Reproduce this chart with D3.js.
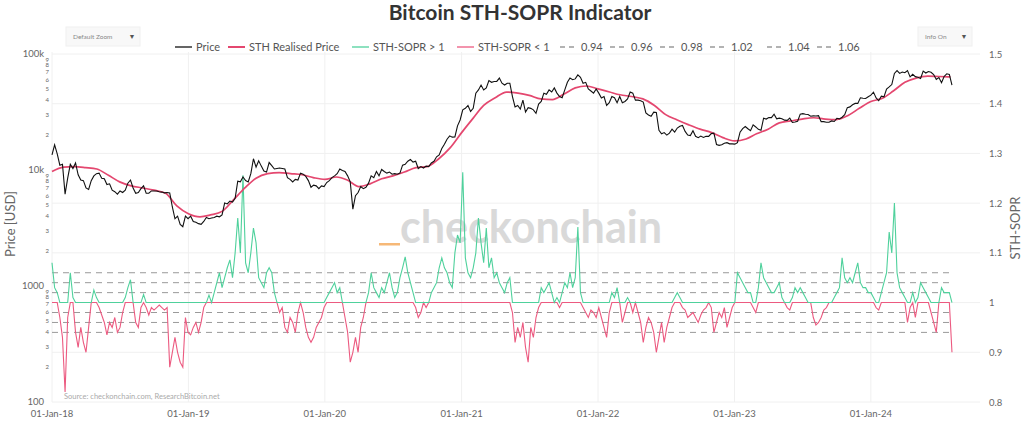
<!DOCTYPE html>
<html><head><meta charset="utf-8">
<script src="https://cdn.jsdelivr.net/npm/d3@7"></script>
<style>
body{margin:0;background:#fff;}
svg text{font-family:Lato,"Open Sans",sans-serif;}
</style>
</head><body>
<svg id="chart" width="1024" height="421"></svg>
<script>
// ---------------- DATA ----------------
const startWeek = "2018-01-01";          // weekly samples, every 7 days
const price = [
// 2018
13500,16500,13800,11000,11200,6200,8500,11200,10300,11500,
9100,8200,8100,7000,6800,8100,8900,9300,9400,8500,
8400,7500,7600,6700,6500,6200,6600,6400,6700,7700,
8200,7000,6300,6400,6900,7300,6300,6300,6600,6600,
6600,6500,6450,6350,6400,6350,4800,3800,4000,3400,
3250,4000,3800,
// 2019
4000,3600,3550,3450,3400,3600,3900,3800,3850,3900,
4000,3950,4100,5200,5100,5400,5300,5700,8000,7900,
8700,8100,7900,9300,12500,10600,12000,10800,9800,9600,
11600,10900,10200,10300,10400,10300,10200,8600,8300,7900,
8300,8200,9400,9200,8800,8100,7100,7400,7300,6900,
7300,7200,
// 2020
7800,8100,8600,8900,9300,10200,9900,9700,8900,7900,
4600,6000,6400,7200,6900,7100,7700,8900,8600,9700,
8900,10100,9700,9400,9600,9200,9300,9200,9400,11000,
11200,11900,12300,11700,11900,10300,10700,10400,10800,10700,
11500,11900,13000,13500,15300,16700,18400,19700,19200,19300,
24000,27000,
// 2021
33000,34000,36000,32000,34000,46000,49000,54000,49000,51000,
59000,57000,58000,58000,62000,56000,54000,56000,56000,43000,
35000,36000,33500,40000,31600,34500,34000,33000,30800,37000,
39000,46000,45000,49000,47000,51000,46000,43000,42000,49000,
57000,62000,60000,61000,66000,63000,56000,57000,50000,48000,
46000,50000,
// 2022
46000,41800,43000,36000,38000,43000,42000,38000,43000,38000,
39000,41000,47000,46000,40000,40000,39500,38500,31000,29800,
29000,31500,31300,22000,20500,21000,20000,20800,22500,21200,
23000,23800,24200,21500,20000,19800,21800,19500,19000,19600,
19100,19500,19500,20600,20800,16600,16300,16500,17000,17200,
16800,16800,
// 2023
16700,17200,21200,22700,23700,22700,21800,24500,23500,22400,
22000,28000,27500,28300,28300,30300,27600,28000,27700,26900,
26800,28000,25700,25900,26300,30300,30600,30200,30100,29100,
29300,29200,29400,26100,26100,25800,25800,26500,26200,27900,
27600,28500,30000,34500,35000,36500,37500,37500,41900,41500,
41300,42800,
// 2024
44200,46900,41800,39600,43300,42700,49900,52000,54500,68000,
72000,68000,70000,69000,72000,63500,66800,63800,63100,61500,
71300,68500,70600,69600,66500,60300,62600,56500,64000,67500,
66700,54000
];
const sopr = [
// 2018
1.08,1.03,1.02,0.97,0.93,0.82,0.97,1.06,1.01,0.94,
0.91,0.95,0.92,0.90,0.95,1.00,1.025,1.01,0.99,0.975,
0.96,0.935,0.96,0.95,0.97,0.94,0.95,0.98,1.01,1.03,
1.046,1.00,0.96,0.95,0.99,1.016,0.99,0.975,0.99,0.985,
0.99,0.995,0.99,0.985,0.99,0.87,0.90,0.93,0.90,0.88,
0.87,0.97,0.94,
// 2019
0.935,0.95,0.96,0.94,0.96,0.99,1.0,1.015,1.0,1.02,
1.04,1.06,1.03,1.05,1.07,1.086,1.05,1.10,1.17,1.10,
1.256,1.08,1.06,1.10,1.15,1.12,1.05,1.04,1.03,1.06,
1.07,1.06,1.02,1.0,0.98,0.99,0.95,0.94,0.97,0.96,
0.94,0.98,1.0,0.98,0.95,0.93,0.92,0.93,0.95,0.96,
0.97,0.99,
// 2020
1.01,1.02,1.03,1.04,1.02,1.03,1.0,0.97,0.94,0.88,
0.90,0.93,0.90,0.95,0.97,1.0,1.02,1.06,1.03,1.02,
1.01,1.03,1.02,1.04,1.06,1.03,1.01,1.02,1.05,1.07,
1.092,1.06,1.04,1.02,0.99,0.97,0.98,1.0,0.99,1.0,
1.02,1.03,1.04,1.07,1.09,1.07,1.06,1.04,1.03,1.10,
1.136,1.12,1.262,
// 2021
1.09,1.06,1.05,1.07,1.10,1.17,1.12,1.08,1.15,1.07,
1.09,1.05,1.06,1.04,1.03,1.02,1.04,1.05,0.98,0.92,
0.95,0.93,0.96,0.91,0.88,0.95,0.93,0.97,0.99,1.03,
1.02,1.03,1.04,1.02,1.0,1.01,0.99,1.02,1.04,1.03,
1.06,1.03,1.05,1.152,1.02,0.99,0.98,0.97,0.985,0.98,
0.97,0.99,
// 2022
0.97,0.95,0.93,0.98,1.02,1.01,1.03,1.0,0.96,0.98,
1.01,1.0,0.98,1.0,0.98,0.96,0.92,0.95,0.97,0.96,
0.94,0.90,0.93,0.96,0.92,0.95,0.97,0.99,1.01,1.02,
1.01,0.99,0.985,0.97,0.975,0.98,0.97,0.96,0.975,0.985,
0.99,1.0,0.99,0.94,0.96,0.98,0.97,0.99,0.95,0.97,
0.99,1.0,
// 2023
1.06,1.05,1.04,1.03,1.02,1.02,0.99,0.98,1.03,1.08,
1.05,1.04,1.03,1.02,1.02,1.03,1.04,1.01,1.0,0.99,
0.985,1.01,1.03,1.02,1.03,1.02,1.01,1.0,1.0,0.97,
0.955,0.96,0.97,0.985,0.99,1.0,1.0,1.01,1.02,1.03,
1.09,1.05,1.04,1.05,1.04,1.06,1.08,1.04,1.03,1.03,
1.02,1.02,
// 2024
1.01,0.99,0.985,1.02,1.04,1.06,1.142,1.10,1.20,1.06,
1.03,1.02,1.01,0.96,0.99,1.02,0.97,1.01,1.04,1.03,
1.02,1.01,0.98,0.96,0.94,1.0,1.03,1.02,1.02,1.02,
0.90
];
const startMonth = "2018-01-01";         // monthly samples
const sthRealised = [
9700,10600,10700,10500,10200,9000,7900,7300,7000,6700,6300,4900,
4200,3950,4100,4400,5500,7000,8500,9300,9500,9300,9100,8600,
8300,8700,8200,7200,7600,8400,8900,9600,10500,10700,12500,15500,
21000,28000,36000,42000,47000,46000,44000,41000,40500,45000,51000,53000,
50000,47000,44500,43000,41000,36000,30000,27000,24500,22500,21000,19000,
17800,18500,20500,22500,25500,26500,27500,28200,27500,27200,29500,34000,
39000,41500,48000,57000,62000,64500,64000,63500
];
const levels = [0.94, 0.96, 0.98, 1.02, 1.04, 1.06];
const priceMajorTicks = [100, 1000, 10000, 100000];
const priceMajorLabels = ["100", "1000", "10k", "100k"];
const soprTicks = [0.8, 0.9, 1, 1.1, 1.2, 1.3, 1.4, 1.5];
const xTicks = ["2018-01-01","2019-01-01","2020-01-01","2021-01-01","2022-01-01","2023-01-01","2024-01-01"];
const legendLabels = ["Price","STH Realised Price","STH-SOPR > 1","STH-SOPR < 1","0.94","0.96","0.98","1.02","1.04","1.06"];

// ---------------- CHART ----------------
const svg = d3.select("#chart");
const parse = d3.utcParse("%Y-%m-%d");
const t0w = parse(startWeek), t0m = parse(startMonth);
const weekly = price.map((p, i) => ({d: d3.utcDay.offset(t0w, 7*i), p, s: sopr[i]}));
const monthly = sthRealised.map((v, i) => ({d: d3.utcMonth.offset(t0m, i), v}));

const L = 52, R = 980, T = 54, B = 402;
const x = d3.scaleUtc().domain([parse("2018-01-01"), parse("2024-10-19")]).range([L, R]);
const yP = d3.scaleLog().domain([100, 100000]).range([B, T]);
const yS = d3.scaleLinear().domain([0.8, 1.5]).range([B, T]);

const C = {price:"#111", sth:"#e4476f", up:"#4fd19c", dn:"#ec5a80", dash:"#9a9a9a", grid:"#f0f0f0", text:"#666"};

// grid
svg.append("g").selectAll("line").data(soprTicks).join("line")
  .attr("x1", L).attr("x2", R).attr("y1", d => yS(d)).attr("y2", d => yS(d))
  .attr("stroke", C.grid).attr("stroke-width", 1);
svg.append("g").selectAll("line").data(xTicks).join("line")
  .attr("x1", d => x(parse(d))).attr("x2", d => x(parse(d))).attr("y1", T - 2).attr("y2", B)
  .attr("stroke", C.grid).attr("stroke-width", 1);

// watermark
svg.append("text").attr("x", 400).attr("y", 243).text("checkonchain")
  .attr("font-size", 46).attr("font-weight", 700).attr("fill", "#d9d9d9")
  .attr("textLength", 262).attr("lengthAdjust", "spacingAndGlyphs");
svg.append("rect").attr("x", 379).attr("y", 243).attr("width", 21).attr("height", 2.5).attr("fill", "#f6b877");

// dashed levels
const xs = x(weekly[0].d), xe = x(weekly[weekly.length-1].d);
svg.append("g").selectAll("line").data(levels).join("line")
  .attr("x1", xs).attr("x2", xe).attr("y1", d => yS(d)).attr("y2", d => yS(d))
  .attr("stroke", C.dash).attr("stroke-width", 1).attr("stroke-dasharray", "6,5");

// SOPR lines (red first, green on top)
const lineS = f => d3.line().x(d => x(d.d)).y(d => yS(f(d.s)));
svg.append("path").datum(weekly).attr("d", lineS(v => Math.min(v, 1)))
  .attr("fill", "none").attr("stroke", C.dn).attr("stroke-width", 1.1);
svg.append("path").datum(weekly).attr("d", lineS(v => Math.max(v, 1)))
  .attr("fill", "none").attr("stroke", C.up).attr("stroke-width", 1.1);

// price lines
svg.append("path").datum(monthly)
  .attr("d", d3.line().curve(d3.curveMonotoneX).x(d => x(d.d)).y(d => yP(d.v)))
  .attr("fill", "none").attr("stroke", C.sth).attr("stroke-width", 1.7);
svg.append("path").datum(weekly)
  .attr("d", d3.line().x(d => x(d.d)).y(d => yP(d.p)))
  .attr("fill", "none").attr("stroke", C.price).attr("stroke-width", 1.1);

// left axis (log)
const minor = [];
for (let dec = 100; dec < 100000; dec *= 10) for (let k = 2; k <= 9; k++) minor.push({v: dec*k, k});
const gl = svg.append("g").attr("fill", C.text).attr("text-anchor", "end");
gl.selectAll("text.maj").data(priceMajorTicks).join("text").attr("class","maj")
  .attr("x", 44).attr("y", d => yP(d) + 3).attr("font-size", 9.5).text((d, i) => priceMajorLabels[i]);
gl.selectAll("text.min").data(minor).join("text").attr("class","min")
  .attr("x", 49).attr("y", d => yP(d.v) + 2.2).attr("font-size", 6).text(d => d.k);
svg.append("text").attr("transform", "translate(15,224) rotate(-90)").attr("text-anchor", "middle")
  .attr("font-size", 13).attr("fill", C.text).text("Price [USD]");

// right axis
svg.append("g").selectAll("text").data(soprTicks).join("text")
  .attr("x", 989).attr("y", d => yS(d) + 3.5).attr("font-size", 9.5).attr("fill", C.text)
  .text(d => d3.format("~g")(d));
svg.append("text").attr("transform", "translate(1020,228) rotate(-90)").attr("text-anchor", "middle")
  .attr("font-size", 13).attr("fill", C.text).text("STH-SOPR");

// x axis
svg.append("g").selectAll("text").data(xTicks).join("text")
  .attr("x", d => x(parse(d))).attr("y", 417).attr("text-anchor", "middle")
  .attr("font-size", 9.5).attr("fill", C.text).text(d => d3.utcFormat("%d-%b-%y")(parse(d)));

// source
svg.append("text").attr("x", 64).attr("y", 399).attr("font-size", 7.5).attr("fill", "#aaa")
  .text("Source: checkonchain.com, ResearchBitcoin.net");

// title
svg.append("text").attr("x", 520).attr("y", 20).attr("text-anchor", "middle")
  .attr("font-size", 21).attr("font-weight", 700).attr("fill", "#333").text("Bitcoin STH-SOPR Indicator");

// dropdown buttons
const btns = [{x: 66, w: 74, label: "Default Zoom"}, {x: 918, w: 54, label: "Info On"}];
btns.forEach(b => {
  svg.append("rect").attr("x", b.x).attr("y", 27).attr("width", b.w).attr("height", 19)
    .attr("fill", "#f8f8f8").attr("stroke", "#f0f0f0");
  svg.append("text").attr("x", b.x + 7).attr("y", 39).attr("font-size", 6.5).attr("fill", "#888").text(b.label);
  svg.append("text").attr("x", b.x + b.w - 8).attr("y", 39).attr("font-size", 7).attr("fill", "#555")
    .attr("text-anchor", "middle").text("▼");
});

// legend
const legX = [175, 228, 352, 457, 560, 610, 660, 710, 767, 817];
const legColor = [C.price, C.sth, C.up, C.dn].concat(levels.map(() => C.dash));
const lg = svg.append("g");
legendLabels.forEach((lab, i) => {
  const dashed = i >= 4;
  lg.append("line").attr("x1", legX[i]).attr("x2", legX[i] + 17).attr("y1", 47).attr("y2", 47)
    .attr("stroke", legColor[i]).attr("stroke-width", i === 1 ? 2 : 1.3)
    .attr("stroke-dasharray", dashed ? "5,4" : null);
  lg.append("text").attr("x", legX[i] + 21).attr("y", 51).attr("font-size", 11).attr("fill", "#555").text(lab);
});
</script>
</body></html>
